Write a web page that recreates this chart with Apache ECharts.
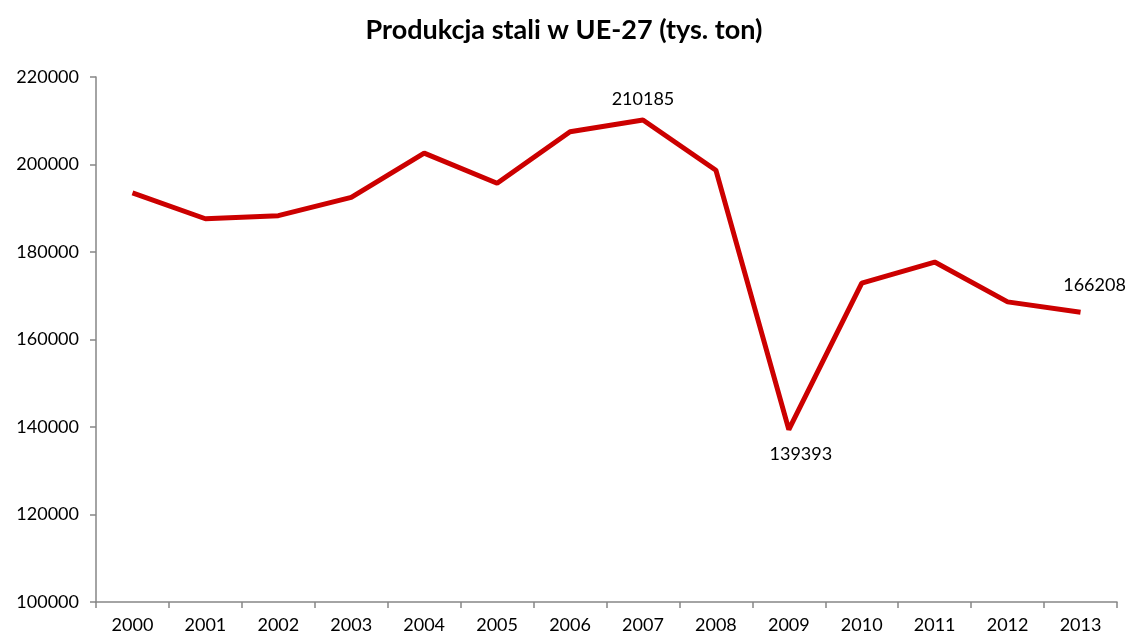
<!DOCTYPE html>
<html>
<head>
<meta charset="utf-8">
<script src="https://cdn.jsdelivr.net/npm/echarts@6/dist/echarts.min.js"></script>
<style>
  html, body { margin: 0; padding: 0; background: #fff; }
  #chart { width: 1128px; height: 638px; }
</style>
</head>
<body>
<div id="chart"></div>
<script>
// Steel production EU-27 (thousand tonnes)
const years = ["2000", "2001", "2002", "2003", "2004", "2005", "2006",
               "2007", "2008", "2009", "2010", "2011", "2012", "2013"];
const production = [193500, 187600, 188300, 192500, 202600, 195700, 207500,
                    210185, 198700, 139393, 172900, 177700, 168600, 166208];
// which points carry a value label, and where
const labelledAbove = ["2007", "2013"];
const labelledBelow = ["2009"];

const chart = echarts.init(document.getElementById("chart"));

const fontFamily = "Lato, 'Open Sans', sans-serif";

const seriesData = production.map((v, i) => {
  const y = years[i];
  if (y === "2013") {
    return { value: v, label: { show: true, position: "top", distance: 12, offset: [14, -6] } };
  }
  if (labelledAbove.includes(y)) {
    return { value: v, label: { show: true, position: "top", distance: 12 } };
  }
  if (labelledBelow.includes(y)) {
    return { value: v, label: { show: true, position: "bottom", distance: 16, offset: [12, 0] } };
  }
  return v;
});

chart.setOption({
  animation: false,
  title: {
    text: "Produkcja stali w UE-27 (tys. ton)",
    left: "center",
    top: 12,
    textStyle: { fontFamily, fontSize: 27, fontWeight: "bold", color: "#000" }
  },
  grid: { left: 96, right: 11, top: 77, bottom: 36 },
  xAxis: {
    type: "category",
    data: years,
    boundaryGap: true,
    axisLine: { lineStyle: { color: "#868686", width: 1.5 } },
    axisTick: { show: true, length: 6, lineStyle: { color: "#868686", width: 1.5 } },
    axisLabel: { fontFamily, fontSize: 18, color: "#000", margin: 14 },
    splitLine: { show: false }
  },
  yAxis: {
    type: "value",
    min: 100000,
    max: 220000,
    interval: 20000,
    axisLine: { show: true, lineStyle: { color: "#868686", width: 1.5 } },
    axisTick: { show: true, length: 6, lineStyle: { color: "#868686", width: 1.5 } },
    axisLabel: { fontFamily, fontSize: 18, color: "#000", margin: 17, formatter: v => String(v) },
    splitLine: { show: false }
  },
  series: [{
    type: "line",
    data: seriesData,
    symbol: "circle",
    symbolSize: 0,
    showSymbol: true,
    lineStyle: { color: "#cc0000", width: 5 },
    itemStyle: { color: "#cc0000" },
    label: { show: false, fontFamily, fontSize: 18, color: "#000" }
  }]
});
</script>
</body>
</html>
